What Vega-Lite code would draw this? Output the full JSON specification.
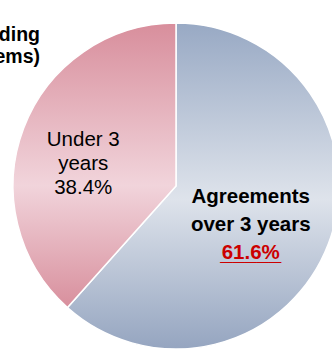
{
  "$schema": "https://vega.github.io/schema/vega-lite/v6.json",
  "width": 332,
  "height": 349,
  "autosize": {"type": "none"},
  "padding": 0,
  "background": "white",
  "title": {
    "text": ["Outstanding", "(items)"],
    "anchor": "start",
    "frame": "group",
    "align": "right",
    "baseline": "top",
    "dx": 40,
    "dy": 67,
    "offset": 0,
    "font": "Liberation Sans",
    "fontSize": 19.5,
    "fontWeight": "bold",
    "lineHeight": 22,
    "color": "#000000"
  },
  "data": {
    "values": [
      {"cat": "Agreements over 3 years", "share": 61.6, "ord": 1, "boldLabel": ["Agreements", "over 3 years"], "pctLabel": "61.6%", "plainLabel": ["\u00a0", "\u00a0", "\u00a0"]},
      {"cat": "Under 3 years", "share": 38.4, "ord": 2, "boldLabel": ["\u00a0", "\u00a0"], "pctLabel": "\u00a0", "plainLabel": ["Under 3", "years", "\u00a0\u00a038.4%"]}
    ]
  },
  "encoding": {
    "theta": {"field": "share", "type": "quantitative", "stack": true},
    "order": {"field": "ord", "type": "quantitative"}
  },
  "layer": [
    {
      "mark": {"type": "arc", "radius": 163, "xOffset": 10, "yOffset": 11.5, "stroke": "white", "strokeWidth": 1.5},
      "encoding": {
        "fill": {
          "condition": {
            "test": "datum.cat === 'Under 3 years'",
            "value": {"gradient": "linear", "x1": 0, "y1": 0, "x2": 0, "y2": 1, "stops": [
              {"offset": 0, "color": "#d88e9c"},
              {"offset": 0.57, "color": "#f1d4db"},
              {"offset": 1, "color": "#d88f9d"}
            ]}
          },
          "value": {"gradient": "linear", "x1": 0, "y1": 0, "x2": 0, "y2": 1, "stops": [
            {"offset": 0, "color": "#98a9c4"},
            {"offset": 0.54, "color": "#dee3eb"},
            {"offset": 1, "color": "#95a5c0"}
          ]}
        }
      }
    },
    {
      "mark": {"type": "text", "radius": 80, "xOffset": 10, "yOffset": 11.5, "dy": -17.5, "font": "Liberation Sans", "fontSize": 20.5, "fontWeight": "bold", "lineHeight": 28, "align": "center", "baseline": "middle", "color": "#000000"},
      "encoding": {"text": {"field": "boldLabel"}}
    },
    {
      "mark": {"type": "text", "radius": 80, "xOffset": 10, "yOffset": 11.5, "dy": 38.5, "font": "Liberation Sans", "fontSize": 20.5, "fontWeight": "bold", "align": "center", "baseline": "middle", "color": "#cc0000"},
      "encoding": {"text": {"field": "pctLabel"}}
    },
    {
      "mark": {"type": "text", "radius": 80, "xOffset": 10, "yOffset": 11.5, "dy": 38.5, "font": "Liberation Sans", "fontSize": 22, "fontWeight": "bold", "align": "center", "baseline": "middle", "color": "#cc0000"},
      "encoding": {"text": {"condition": {"test": "datum.cat === 'Agreements over 3 years'", "value": "_____"}, "value": ""}}
    },
    {
      "mark": {"type": "text", "radius": 95, "xOffset": 10, "yOffset": 11.5, "dx": -4, "dy": -12, "font": "Liberation Sans", "fontSize": 20.5, "lineHeight": 24, "align": "center", "baseline": "middle", "color": "#000000"},
      "encoding": {"text": {"field": "plainLabel"}}
    }
  ]
}
